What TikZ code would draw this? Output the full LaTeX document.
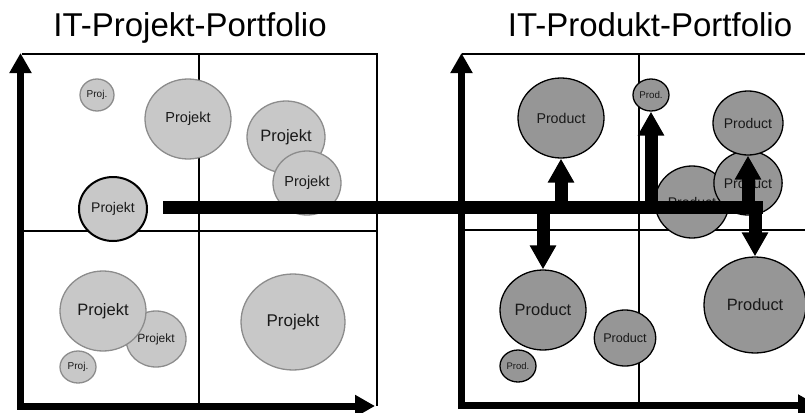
\documentclass[tikz,border=0pt]{standalone}
\usepackage{fontspec}
\setmainfont{Liberation Sans}
\usepackage{tikz}
\usetikzlibrary{shapes, arrows.meta, calc}

\definecolor{projfill}{RGB}{200,200,200}
\definecolor{projline}{RGB}{140,140,140}
\definecolor{prodfill}{RGB}{150,150,150}

\begin{document}
\begin{tikzpicture}[
		x=1pt, y=-1pt,
		proj/.style={ellipse, draw=projline, fill=projfill, line width=1.3pt, inner sep=0pt, text=black!90},
		prod/.style={ellipse, draw=black, fill=prodfill, line width=1.3pt, inner sep=0pt, text=black!90},
		sz/.style 2 args={minimum width=#1, minimum height=#2},
		txt/.style={font=\fontsize{#1}{#1}\selectfont},
		grid/.style={line width=1.3pt},
		axis/.style={line width=7pt, -{Triangle[width=21pt, length=20pt]}},
		flow/.style={line width=13pt, -{Triangle[width=25pt, length=24pt]}}
	]
	\clip (0, 0) rectangle (805, 412);
	
	\node[txt=33, anchor=base] (tproj) at (190, 37) {IT-Projekt-Portfolio};
	\node[txt=33, anchor=base] (tprod) at (650, 37) {IT-Produkt-Portfolio};
	
	% left portfolio
	\draw[grid] (21.7, 54) -- (377, 54) -- (377, 406);
	\draw[grid] (199, 54) -- (199, 406);
	\draw[grid] (21, 231) -- (377, 231);
	
	\node[proj, sz={34pt}{32pt}, txt=10] (p1) at (97, 95) {Proj.};
	\node[proj, sz={86pt}{80pt}, txt=14.5] (p2) at (188, 119) {Projekt};
	\node[proj, sz={78pt}{72pt}, txt=16.5] (p3) at (286, 137) {Projekt};
	\node[proj, sz={68pt}{64pt}, txt=14.5] (p4) at (307, 183) {Projekt};
	\node[proj, draw=black, line width=2pt, sz={68pt}{64pt}, txt=14] (p5) at (113, 209) {Projekt};
	\node[proj, sz={60pt}{56pt}, txt=12] (p7) at (156, 339) {Projekt};
	\node[proj, sz={86pt}{80pt}, txt=16.5] (p6) at (103, 311) {Projekt};
	\node[proj, sz={36pt}{32pt}, txt=10] (p8) at (78, 367) {Proj.};
	\node[proj, sz={104pt}{96pt}, txt=17] (p9) at (293, 322) {Projekt};
	
	\draw[axis] (17, 406) -- (375, 406);
	\draw[axis] (20.5, 409.5) -- (20.5, 53);
	
	% right portfolio
	\draw[grid] (462, 54) -- (820, 54);
	\draw[grid] (639, 54) -- (639, 406);
	\draw[grid] (462, 230) -- (820, 230);
	
	\node[prod, sz={86pt}{80pt}, txt=14.2] (pa) at (561, 118) {Product};
	\node[prod, sz={36pt}{32pt}, txt=9.8] (pb) at (651, 95) {Prod.};
	\node[prod, sz={74pt}{72pt}, txt=14] (pe) at (692, 202) {Product};
	\node[prod, sz={68pt}{64pt}, txt=14] (pd) at (748, 183) {Product};
	\node[prod, sz={70pt}{64pt}, txt=14] (pc) at (748, 123) {Product};
	\node[prod, sz={86pt}{80pt}, txt=16.4] (pf) at (543, 310) {Product};
	\node[prod, sz={60pt}{56pt}, txt=12.6] (pg) at (625, 338) {Product};
	\node[prod, sz={36pt}{32pt}, txt=9.5] (ph) at (518, 366) {Prod.};
	\node[prod, sz={102pt}{96pt}, txt=16.4] (pi) at (755, 305) {Product};
	
	\draw[axis] (458, 405.5) -- (818, 405.5);
	\draw[axis] (461.5, 409) -- (461.5, 53);
	
	% transfer bar
	\coordinate (barL) at (163, 207);
	\coordinate (barR) at (763, 207);
	\draw[line width=13pt] (barL) -- (barR);
	
	\draw[flow] (pa.south |- barL) -- (pa.south);
	\draw[flow] (pf.north |- barL) -- (pf.north);
	\draw[flow] (pb.south |- barL) -- (pb.south);
	\draw[flow] (pc.south |- barL) -- (pc.south);
	\draw[flow] (pi.north |- barL) -- (pi.north);
\end{tikzpicture}
\end{document}
